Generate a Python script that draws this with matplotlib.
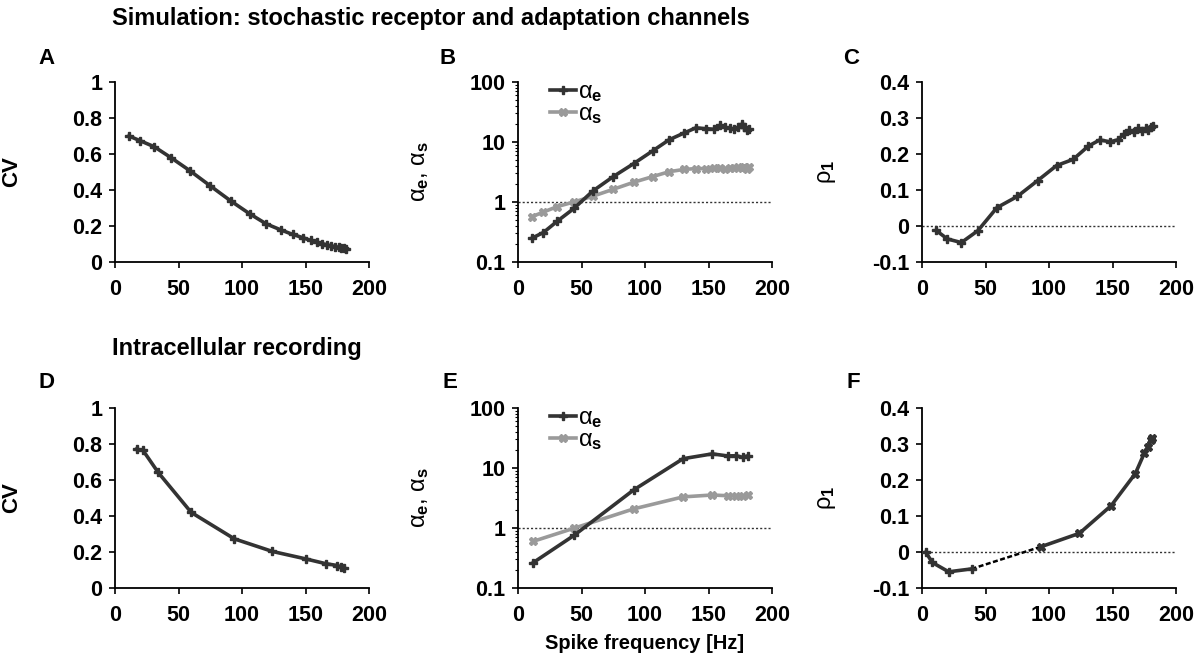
import matplotlib.pyplot as plt
from matplotlib.ticker import FixedLocator, LogLocator, NullFormatter

plt.rcParams['font.family'] = ['Liberation Sans', 'DejaVu Sans']
plt.rcParams['font.weight'] = 'bold'
plt.rcParams['axes.labelweight'] = 'bold'
plt.rcParams['mathtext.fontset'] = 'custom'
plt.rcParams['mathtext.rm'] = 'Liberation Sans:weight=normal'
plt.rcParams['mathtext.it'] = 'Liberation Sans:weight=normal'
plt.rcParams['mathtext.bf'] = 'Liberation Sans:weight=bold'

DARK = '#333333'
GREY = '#9a9a9a'

# Simulation (top row)
sim_freq = [11, 20, 31, 44, 59, 75, 91, 106, 119, 131, 140, 148,
            154, 159, 163, 167, 170, 173, 176, 178, 180, 182]
sim_cv = [0.70, 0.673, 0.64, 0.58, 0.507, 0.423, 0.34, 0.268, 0.212, 0.177, 0.153, 0.135,
          0.12, 0.11, 0.102, 0.095, 0.09, 0.086, 0.082, 0.079, 0.076, 0.074]
sim_alpha_e = [0.25, 0.31, 0.48, 0.78, 1.53, 2.65, 4.35, 7.1, 10.9, 14.2, 17.2, 16.7,
               16.3, 19.0, 17.5, 17.0, 16.5, 17.5, 19.8, 17.5, 16.0, 16.5]
sim_alpha_s = [0.57, 0.68, 0.84, 1.0, 1.25, 1.63, 2.13, 2.65, 3.2, 3.5, 3.6, 3.6,
               3.65, 3.7, 3.6, 3.75, 3.65, 3.8, 3.7, 3.85, 3.5, 3.8]
sim_rho1 = [-0.012, -0.036, -0.046, -0.013, 0.051, 0.082, 0.126, 0.168, 0.185, 0.222, 0.239, 0.234,
            0.239, 0.255, 0.266, 0.262, 0.271, 0.264, 0.271, 0.268, 0.276, 0.278]

# Intracellular recording (bottom row)
rec_freq_cv = [17, 22, 34, 60, 94, 124, 150, 166, 175, 178, 180]
rec_cv = [0.77, 0.765, 0.642, 0.42, 0.273, 0.203, 0.162, 0.135, 0.125, 0.117, 0.112]
rec_freq_alpha = [12, 44, 91, 130, 153, 165, 172, 177, 181]
rec_alpha_e = [0.265, 0.75, 4.3, 14.3, 17.2, 15.9, 16.0, 15.0, 16.0]
rec_alpha_s = [0.6, 0.99, 2.08, 3.3, 3.55, 3.45, 3.45, 3.45, 3.5]
rec_freq_rho_low = [3, 8, 21, 39]
rec_rho_low = [0.0, -0.029, -0.055, -0.047]
rec_freq_rho_high = [94, 124, 149, 168, 175, 178, 180, 181]
rec_rho_high = [0.015, 0.052, 0.129, 0.218, 0.274, 0.293, 0.311, 0.318]

xticks = [0, 50, 100, 150, 200]
cv_ticks = [0, 0.2, 0.4, 0.6, 0.8, 1]
cv_labels = ['0', '0.2', '0.4', '0.6', '0.8', '1']
alpha_ticks = [0.1, 1, 10, 100]
alpha_labels = ['0.1', '1', '10', '100']
rho_ticks = [-0.1, 0, 0.1, 0.2, 0.3, 0.4]
rho_labels = ['-0.1', '0', '0.1', '0.2', '0.3', '0.4']

W, H = 1200, 661
fig = plt.figure(figsize=(12, 6.61), dpi=100)


def make_ax(x0, ytop):
    # pixel box -> figure fraction
    w, h = 254, 180
    ax = fig.add_axes([x0 / W, 1 - (ytop + h) / H, w / W, h / H])
    for s in ['top', 'right']:
        ax.spines[s].set_visible(False)
    for s in ['left', 'bottom']:
        ax.spines[s].set_linewidth(1.3)
    ax.tick_params(direction='out', length=4, width=1.2, labelsize=15.5, pad=5)
    ax.tick_params(axis='x', pad=8)
    ax.set_xlim(0, 200)
    ax.xaxis.set_major_locator(FixedLocator(xticks))
    return ax


def cv_panel(ax, x, y):
    ax.plot(x, y, color=DARK, lw=2.6, marker='P', ms=5.5, zorder=3)
    ax.set_ylim(0, 1)
    ax.set_yticks(cv_ticks)
    ax.set_yticklabels(cv_labels)
    ax.set_ylabel('CV', fontsize=16)
    ax.yaxis.set_label_coords((22 - 115) / 254, 0.5)


def alpha_panel(ax, x, ye, ys):
    ax.set_yscale('log')
    ax.axhline(1, color='#333333', lw=1, ls=(0, (1.5, 1.5)), zorder=1)
    ax.plot(x, ys, color=GREY, lw=2.6, marker='X', ms=5.5, label=r'$\alpha_{\mathbf{s}}$', zorder=2)
    ax.plot(x, ye, color=DARK, lw=2.6, marker='P', ms=5.5, label=r'$\alpha_{\mathbf{e}}$', zorder=3)
    ax.set_ylim(0.1, 100)
    ax.set_yticks(alpha_ticks)
    ax.set_yticklabels(alpha_labels)
    ax.yaxis.set_minor_locator(LogLocator(base=10, subs=range(2, 10)))
    ax.yaxis.set_minor_formatter(NullFormatter())
    ax.tick_params(axis='y', which='minor', length=2, width=0.8)
    ax.set_ylabel(r'$\alpha_{\mathbf{e}}$, $\alpha_{\mathbf{s}}$', fontsize=17, fontweight='normal')
    ax.yaxis.set_label_coords((431 - 518) / 254, 0.5)
    h, l = ax.get_legend_handles_labels()
    ax.legend(h[::-1], l[::-1], loc='upper left', bbox_to_anchor=(0.06, 1.1), frameon=False,
              fontsize=17, handlelength=1.1, handletextpad=0.1, labelspacing=-0.1, borderpad=0.2)


def rho_panel(ax):
    ax.axhline(0, color='#333333', lw=1, ls=(0, (1.5, 1.5)), zorder=1)
    ax.set_ylim(-0.1, 0.4)
    ax.set_yticks(rho_ticks)
    ax.set_yticklabels(rho_labels)
    ax.set_ylabel(r'$\rho_{\mathbf{1}}$', fontsize=17, fontweight='normal')
    ax.yaxis.set_label_coords((838 - 922) / 254, 0.5)


# top row
axA = make_ax(115, 82)
cv_panel(axA, sim_freq, sim_cv)
axB = make_ax(518, 82)
alpha_panel(axB, sim_freq, sim_alpha_e, sim_alpha_s)
axC = make_ax(922, 82)
rho_panel(axC)
axC.plot(sim_freq, sim_rho1, color=DARK, lw=2.6, marker='P', ms=5.5, zorder=3)

# bottom row
axD = make_ax(115, 408)
cv_panel(axD, rec_freq_cv, rec_cv)
axE = make_ax(518, 408)
alpha_panel(axE, rec_freq_alpha, rec_alpha_e, rec_alpha_s)
axE.set_xlabel('Spike frequency [Hz]', fontsize=14.5, labelpad=6)
axF = make_ax(922, 408)
rho_panel(axF)
axF.plot([rec_freq_rho_low[-1], rec_freq_rho_high[0]], [rec_rho_low[-1], rec_rho_high[0]],
         color='black', lw=1.8, ls=(0, (2, 1)), zorder=2)
axF.plot(rec_freq_rho_low, rec_rho_low, color=DARK, lw=2.6, marker='P', ms=5.5, zorder=3)
axF.plot(rec_freq_rho_high, rec_rho_high, color=DARK, lw=2.6, marker='X', ms=5.5, zorder=3)

# titles and panel letters
fig.text(112 / W, 1 - 19 / H, 'Simulation: stochastic receptor and adaptation channels',
         fontsize=17, ha='left', va='center')
fig.text(112 / W, 1 - 348 / H, 'Intracellular recording', fontsize=17, ha='left', va='center')
for letter, px, py in [('A', 38, 58), ('B', 440, 58), ('C', 843, 58),
                       ('D', 38, 382), ('E', 443, 382), ('F', 847, 382)]:
    fig.text(px / W, 1 - py / H, letter, fontsize=16, ha='left', va='center')

fig.savefig('out.png', dpi=100)
